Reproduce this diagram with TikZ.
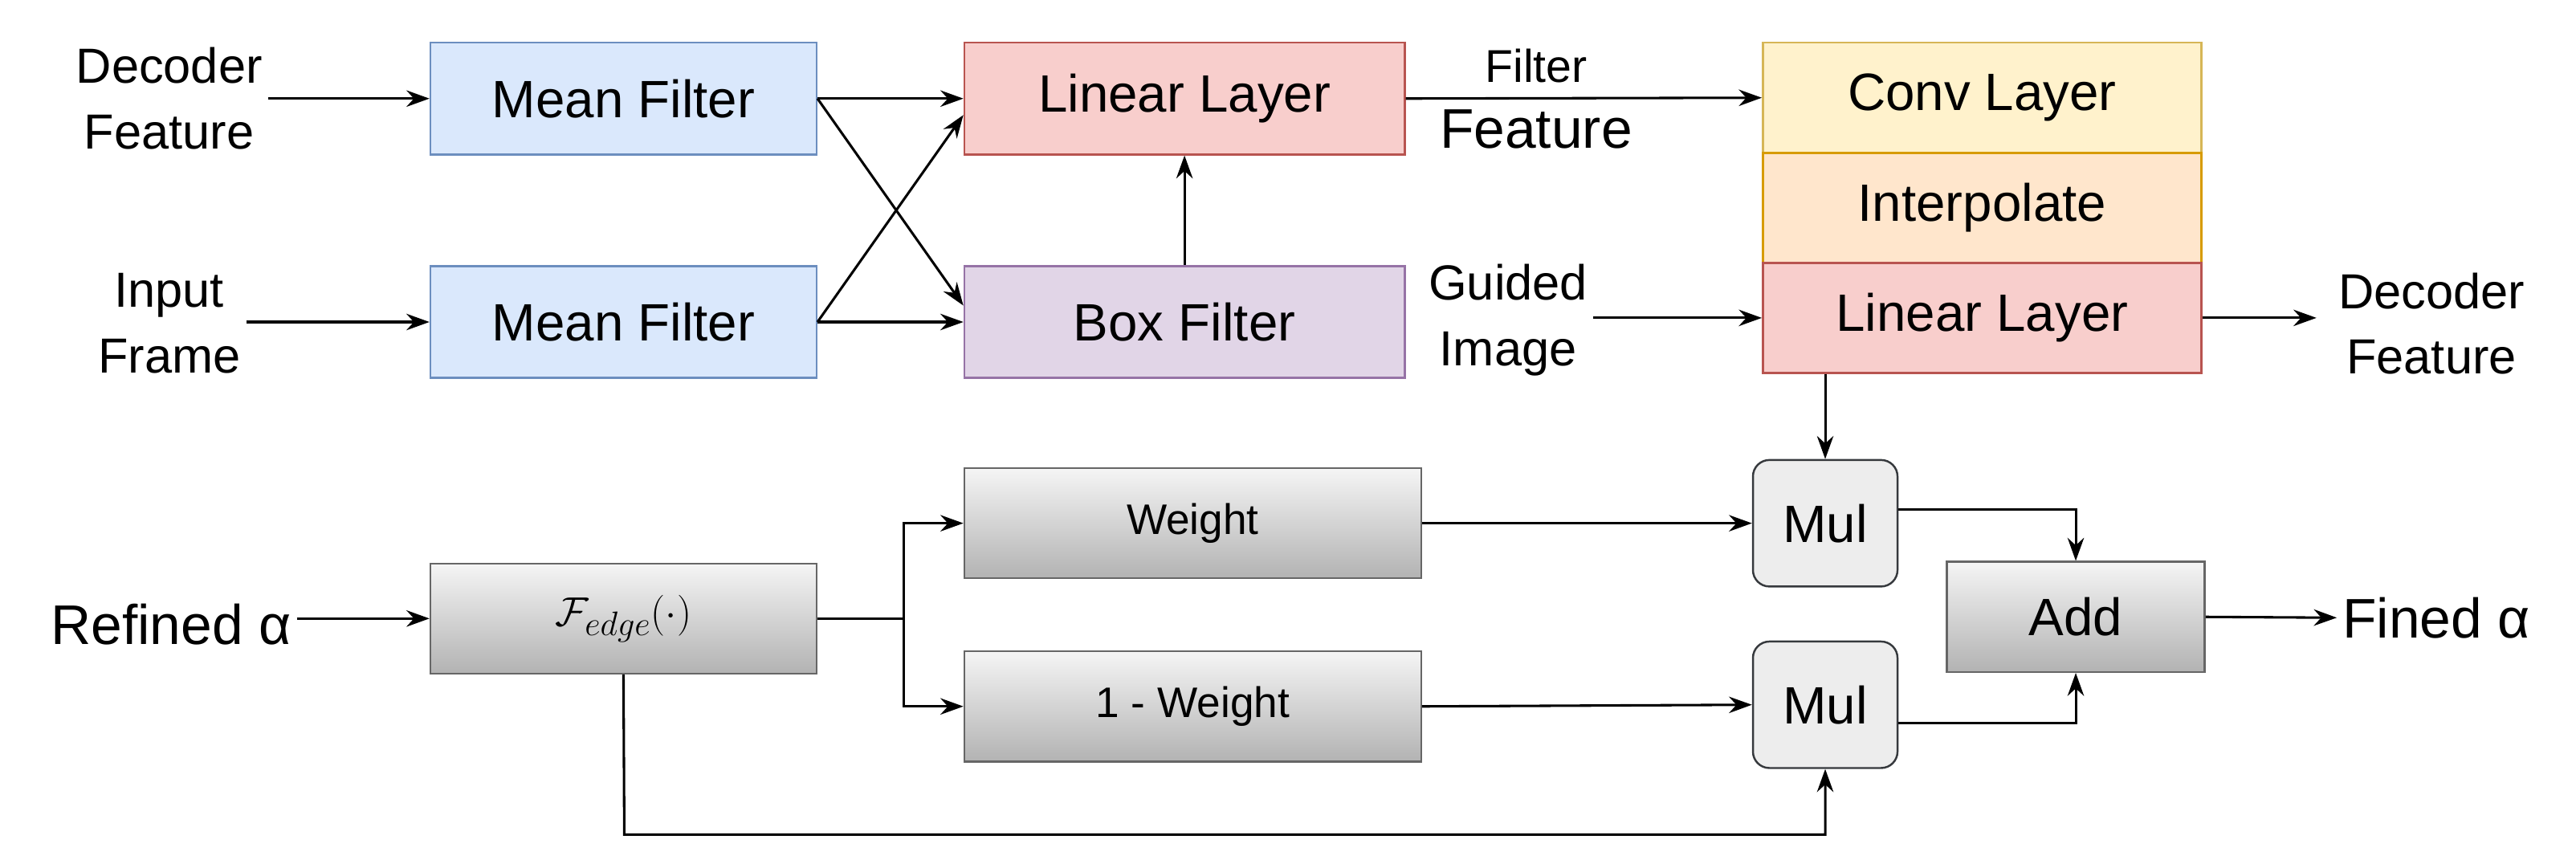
\documentclass[tikz,border=0pt]{standalone}
\usepackage{fontspec}
\setmainfont{Liberation Sans}
\usetikzlibrary{arrows.meta}
\definecolor{bF}{HTML}{DAE8FC}\definecolor{bD}{HTML}{6C8EBF}
\definecolor{rF}{HTML}{F8CECC}\definecolor{rD}{HTML}{B85450}
\definecolor{pF}{HTML}{E1D5E7}\definecolor{pD}{HTML}{9673A6}
\definecolor{yF}{HTML}{FFF2CC}\definecolor{yD}{HTML}{D6B656}
\definecolor{oF}{HTML}{FFE6CC}\definecolor{oD}{HTML}{D79B00}
\definecolor{gD}{HTML}{666666}\definecolor{mD}{HTML}{36393D}
\begin{document}
\begin{tikzpicture}[x=1pt,y=-1pt,
 box/.style={draw,line width=1.2pt,minimum width=#1,inner sep=0pt,font=\fontsize{32}{36}\selectfont},
 blu/.style={box=235pt,minimum height=68pt,fill=bF,draw=bD},
 red/.style={box=268pt,minimum height=68pt,fill=rF,draw=rD},
 gry/.style={box=#1,minimum height=67pt,draw=gD,top color=white!96!black,bottom color=black!30},
 mul/.style={draw=mD,line width=1.2pt,fill=black!7,rounded corners=10pt,minimum width=88pt,minimum height=77pt,font=\fontsize{32}{36}\selectfont},
 lbl/.style={align=center,font=\fontsize{30}{40}\selectfont},
 ar/.style={-{Stealth[length=14pt,width=10pt]},line width=1.5pt}]
\useasboundingbox (0,0) rectangle (1568,528);
\node[blu] (m1) at (379.5,60) {Mean Filter};
\node[blu] (m2) at (379.5,196) {Mean Filter};
\node[red] (l1) at (721,60) {Linear Layer};
\node[box=268pt,minimum height=68pt,fill=pF,draw=pD] (bx) at (721,196) {Box Filter};
\node[box=267pt,minimum height=67pt,fill=yF,draw=yD] (cv) at (1206.5,59.5) {Conv Layer};
\node[box=267pt,minimum height=67pt,fill=oF,draw=oD] (ip) at (1206.5,126.5) {Interpolate};
\node[box=267pt,minimum height=67pt,fill=rF,draw=rD] (l2) at (1206.5,193.5) {Linear Layer};
\node[gry=235pt] (fe) at (379.5,376.5) {$\mathcal{F}_{edge}(\cdot)$};
\node[gry=278pt,font=\fontsize{26}{30}\selectfont] (w) at (726,318.5) {Weight};
\node[gry=278pt,font=\fontsize{26}{30}\selectfont] (w1) at (726,430) {1 - Weight};
\node[mul] (u1) at (1111,318.5) {Mul};
\node[mul] (u2) at (1111,429) {Mul};
\node[gry=157pt] (ad) at (1263.5,375.5) {Add};
\node[lbl] (df) at (103,60) {Decoder\\Feature};
\node[lbl] (if) at (103,197) {Input\\Frame};
\node[lbl] (ff) at (935,60) {\fontsize{28}{40}\selectfont Filter\\\fontsize{34}{40}\selectfont Feature};
\node[lbl] (gi) at (918,195) {Guided\\Image};
\node[lbl] (do) at (1480,197) {Decoder\\Feature};
\node[lbl,font=\fontsize{34}{40}\selectfont] (ra) at (104,380) {Refined α};
\node[lbl,font=\fontsize{34}{40}\selectfont] (fa) at (1483,376) {Fined α};
\draw[ar] (df.east|-m1) -- (m1);
\draw[ar] (if.east|-m2) -- (m2);
\draw[ar] (m1.east) -- (l1.west);
\draw[ar] (m1.east) -- (bx.west|-0,186);
\draw[ar] (m2.east) -- (bx.west);
\draw[ar] (m2.east) -- (l1.west|-0,70);
\draw[ar] (bx) -- (l1);
\draw[ar] (l1.east) -- (cv.west);
\draw[ar] (gi.east|-l2) -- (l2.west);
\draw[ar] (l2.east) -- (1410,193.5) coordinate (dl);
\draw[ar] (l2.south-|u1) -- (u1.north);
\draw[ar] (ra.east|-fe) -- (fe.west);
\draw[line width=1.5pt] (fe.east) -- (550,376.5) coordinate (br);
\draw[ar] (br) |- (w.west);
\draw[ar] (br) |- (w1.west);
\draw[ar] (w.east) -- (u1.west);
\draw[ar] (w1.east) -- (u2.west);
\draw[ar] (u1.east|-0,310) -| (ad.north);
\draw[ar] (u2.east|-0,440) -| (ad.south);
\draw[ar] (ad.east) -- (fa.west);
\draw[ar] (fe.south) -- (380,508) -| (u2.south);
\end{tikzpicture}
\end{document}
